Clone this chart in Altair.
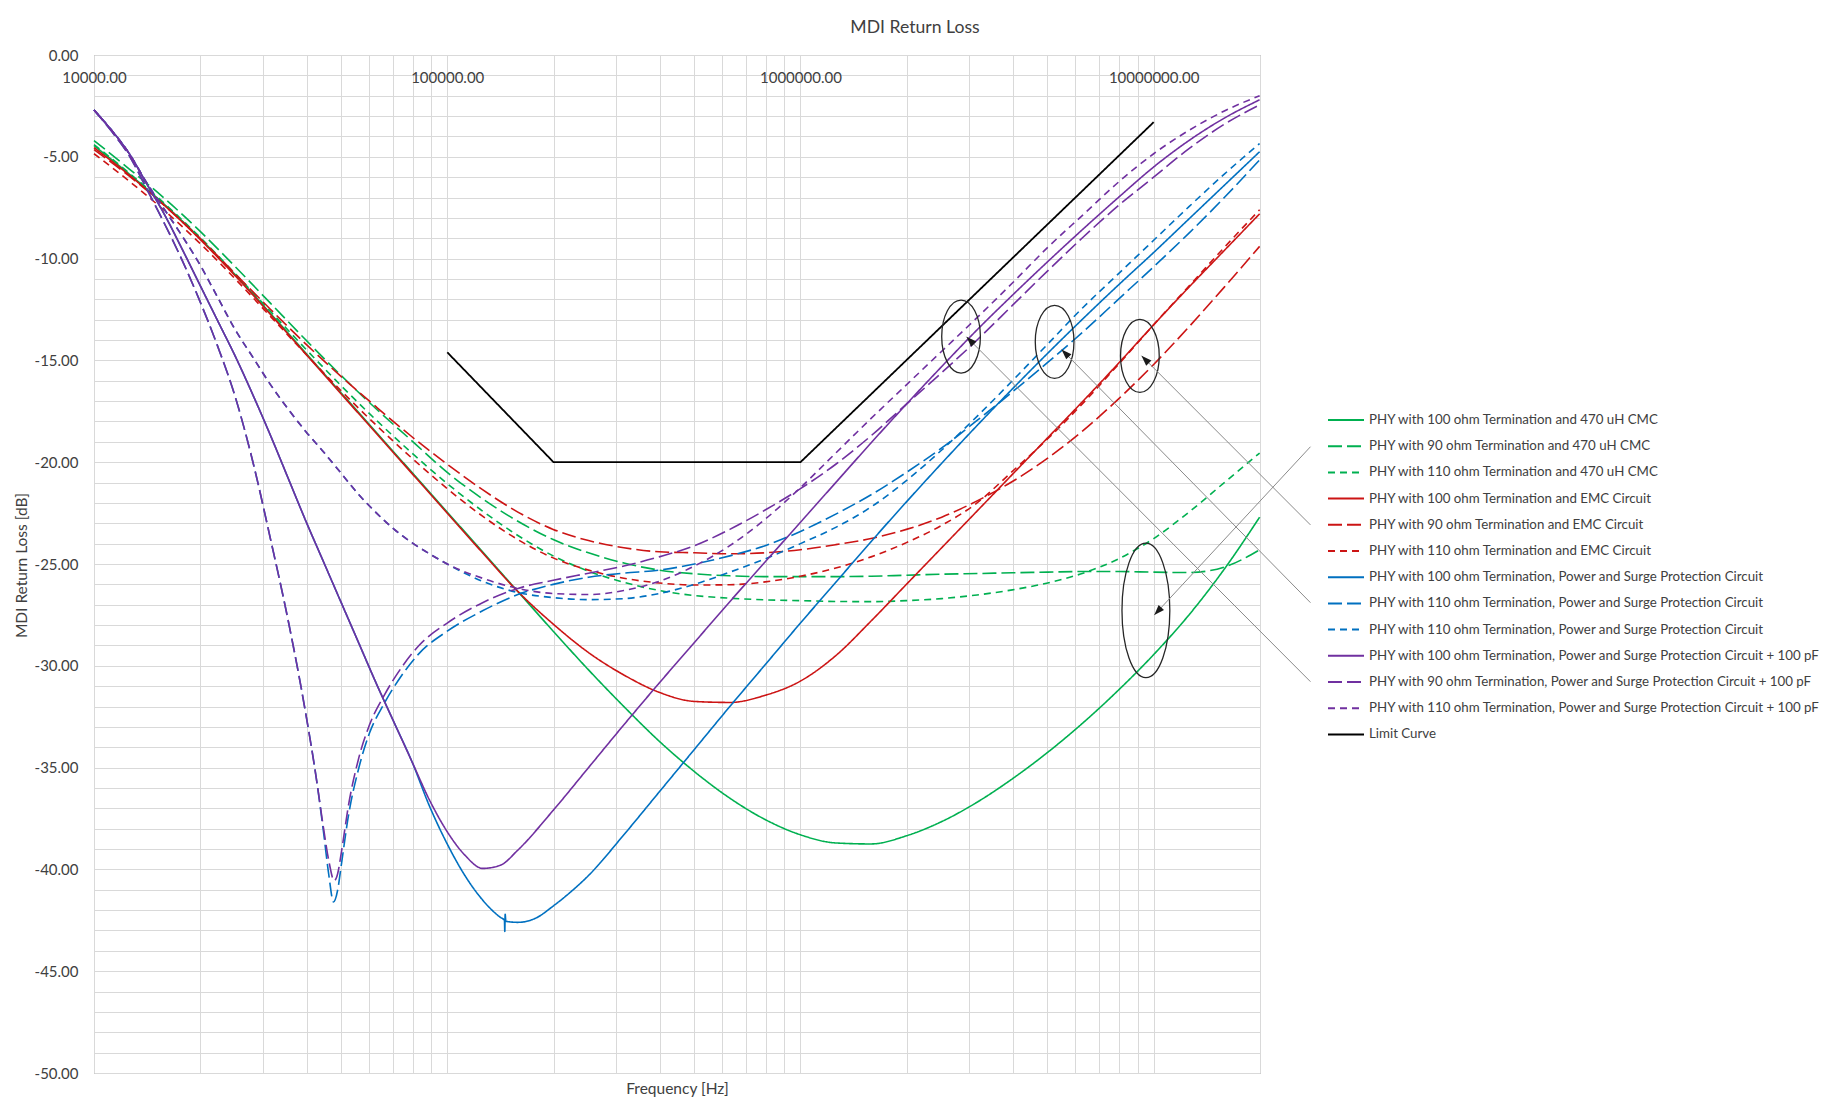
import json
import altair as alt
import pandas as pd

# ---------------- data ----------------
# common frequency grid (Hz), 1/10 decade
FREQ_GRID = [10000, 12589, 15849, 19953, 25119, 31623, 39811, 50119, 63096, 79433,
             100000, 125893, 158489, 199526, 251189, 316228, 398107, 501187, 630957, 794328,
             1000000, 1258925, 1584893, 1995262, 2511886, 3162278, 3981072, 5011872, 6309573, 7943282,
             10000000, 12589254, 15848932, 19952623]

G100_CMC = [-4.45, -5.85, -7.35, -9.0, -10.8, -12.7, -14.65, -16.6, -18.55, -20.5,
            -22.45, -24.4, -26.35, -28.3, -30.2, -32.0, -33.7, -35.2, -36.5, -37.55,
            -38.3, -38.7, -38.75, -38.35, -37.65, -36.7, -35.55, -34.25, -32.8, -31.2,
            -29.45, -27.5, -25.25, -22.7]
G90_CMC = [-4.2, -5.6, -7.05, -8.65, -10.4, -12.2, -14.0, -15.75, -17.4, -18.95,
           -20.5, -21.8, -22.9, -23.8, -24.45, -24.95, -25.3, -25.48, -25.58, -25.62,
           -25.62, -25.62, -25.6, -25.55, -25.5, -25.47, -25.43, -25.4, -25.37, -25.37,
           -25.4, -25.42, -25.15, -24.3]
G110_CMC = [-4.4, -5.8, -7.3, -8.95, -10.75, -12.6, -14.45, -16.25, -17.95, -19.55,
            -21.05, -22.4, -23.6, -24.6, -25.35, -25.9, -26.3, -26.55, -26.68, -26.76,
            -26.8, -26.84, -26.85, -26.8, -26.7, -26.52, -26.27, -25.93, -25.45, -24.75,
            -23.75, -22.45, -21.0, -19.55]
R100_EMC = [-4.55, -5.9, -7.4, -9.05, -10.85, -12.75, -14.7, -16.65, -18.6, -20.55,
            -22.5, -24.45, -26.35, -27.95, -29.35, -30.45, -31.3, -31.75, -31.8, -31.45,
            -30.75, -29.5, -27.8, -26.0, -24.2, -22.4, -20.6, -18.8, -17.0, -15.15,
            -13.25, -11.4, -9.6, -7.8]
R90_EMC = [-4.65, -5.95, -7.4, -9.0, -10.75, -12.5, -14.2, -15.8, -17.3, -18.75,
           -20.1, -21.35, -22.45, -23.3, -23.85, -24.2, -24.4, -24.45, -24.5, -24.45,
           -24.3, -24.05, -23.75, -23.3, -22.7, -21.9, -20.95, -19.8, -18.45, -16.9,
           -15.2, -13.35, -11.4, -9.4]
R110_EMC = [-4.85, -6.2, -7.65, -9.25, -11.0, -12.85, -14.7, -16.5, -18.2, -19.8,
            -21.3, -22.65, -23.8, -24.7, -25.3, -25.7, -25.93, -26.03, -26.02, -25.88,
            -25.6, -25.2, -24.65, -23.95, -23.1, -22.0, -20.45, -18.85, -17.1, -15.2,
            -13.25, -11.35, -9.45, -7.6]

# purple solid (100 ohm, PSPC + 100 pF)
P100_FREQ = [10000, 11220, 12589, 14125, 15849, 17783, 19953, 22387, 25119, 28184,
             31623, 35481, 39811, 44668, 50119, 56234, 63096, 70795, 79433, 89125,
             100000, 112202, 125893, 141254, 158489, 199526, 251189, 316228, 398107, 501187,
             630957, 794328, 1000000, 1258925, 1584893, 1995262, 2511886, 3162278, 3981072, 5011872,
             6309573, 7943282, 10000000, 12589254, 15848932, 19952623]
P100_DB = [-2.7, -3.7, -4.85, -6.35, -7.85, -9.55, -11.3, -13.05, -14.8, -16.7,
           -18.7, -20.8, -22.9, -24.9, -26.9, -28.9, -30.9, -32.8, -34.7, -36.6,
           -38.15, -39.3, -39.95, -39.8, -39.05, -37.1, -35.0, -32.9, -30.85, -28.85,
           -26.85, -24.9, -22.95, -21.0, -19.05, -17.15, -15.3, -13.5, -11.8, -10.15,
           -8.55, -7.0, -5.5, -4.2, -3.1, -2.2]

# blue solid (100 ohm, PSPC)
B100_FREQ = [10000, 11220, 12589, 14125, 15849, 17783, 19953, 22387, 25119, 28184,
             31623, 35481, 39811, 44668, 50119, 56234, 63096, 70795, 79433,
             89125, 100000, 112202, 125893, 141254, 145211, 145546, 145881, 146555, 158489,
             177828, 199526, 223872, 251189,
             316228, 398107, 501187, 630957, 794328, 1000000, 1258925, 1584893, 1995262, 2511886,
             3162278, 3981072, 5011872, 6309573, 7943282, 10000000, 12589254, 15848932, 19952623]
B100_DB = [-2.7, -3.7, -4.85, -6.35, -7.85, -9.55, -11.3, -13.05, -14.8, -16.7,
           -18.7, -20.8, -22.9, -24.9, -26.9, -28.9, -30.9, -32.8, -34.7,
           -36.9, -38.75, -40.3, -41.5, -42.35, -42.5, -43.05, -42.2, -42.55, -42.6,
           -42.4, -41.8, -41.1, -40.3,
           -38.3, -36.2, -34.1, -32.0, -29.95, -27.9, -25.9, -23.9, -21.95, -20.05,
           -18.2, -16.4, -14.65, -12.95, -11.3, -9.7, -8.05, -6.4, -4.75]

# purple long dash (90 ohm, PSPC + 100 pF)
P90_FREQ = [10000, 11220, 12589, 14125, 15849, 17783, 19953, 22387, 25119, 28184,
            31623, 35481, 39811,
            42658, 44668, 46238, 47863, 48978, 50119, 52481, 56234, 60256, 66069, 74131, 83176, 100000,
            125893, 158489, 199526, 251189, 316228, 398107, 501187, 630957, 794328,
            1000000, 1258925, 1584893, 1995262, 2511886, 3162278, 3981072, 5011872, 6309573, 7943282,
            10000000, 12589254, 15848932, 19952623]
P90_DB = [-2.7, -3.75, -4.95, -6.6, -8.3, -10.1, -12.1, -14.3, -16.8, -20.0,
          -23.8, -27.8, -32.4,
          -35.6, -38.0, -39.6, -40.55, -40.2, -39.2, -36.9, -34.5, -32.9, -31.5, -30.1, -29.0, -27.9,
          -26.9, -26.2, -25.8, -25.45, -25.1, -24.65, -24.1, -23.3, -22.35,
          -21.3, -20.1, -18.7, -17.15, -15.6, -14.0, -12.3, -10.6, -8.95, -7.4,
          -6.0, -4.6, -3.4, -2.45]

# blue long dash (second "110 ohm" PSPC entry)
B110L_FREQ = [10000, 11220, 12589, 14125, 15849, 17783, 19953, 22387, 25119, 28184,
              31623, 35481, 39811,
              42658, 44668, 46238, 47643, 48978, 50119, 52481, 56234, 60256, 66069, 74131, 83176, 100000,
              125893, 158489, 199526, 251189, 316228, 398107, 501187, 630957, 794328,
              1000000, 1258925, 1584893, 1995262, 2511886, 3162278, 3981072, 5011872, 6309573, 7943282,
              10000000, 12589254, 15848932, 19952623]
B110L_DB = [-2.7, -3.75, -4.95, -6.6, -8.3, -10.1, -12.1, -14.3, -16.8, -20.0,
            -23.8, -27.8, -32.4,
            -35.6, -38.2, -40.3, -41.6, -41.0, -39.8, -37.4, -35.0, -33.3, -31.9, -30.5, -29.4, -28.3,
            -27.3, -26.5, -26.0, -25.65, -25.45, -25.3, -25.0, -24.6, -24.1,
            -23.4, -22.55, -21.6, -20.5, -19.3, -17.95, -16.55, -15.1, -13.6, -12.0,
            -10.4, -8.75, -7.0, -5.15]

# short dash curves (110 ohm) share this frequency list
S110_FREQ = [10000, 11220, 12589, 14125, 15849, 17783, 19953, 22387, 25119, 28184,
             31623, 35481, 39811, 44668, 50119, 56234, 63096, 70795, 79433, 89125, 100000,
             125893, 158489, 199526, 251189, 316228, 398107, 501187, 630957, 794328,
             1000000, 1258925, 1584893, 1995262, 2511886, 3162278, 3981072, 5011872, 6309573, 7943282,
             10000000, 12589254, 15848932, 19952623]
P110_DB = [-2.7, -3.7, -4.85, -6.3, -7.6, -8.9, -10.3, -11.9, -13.5, -14.85,
           -16.2, -17.4, -18.5, -19.5, -20.55, -21.6, -22.5, -23.3, -23.95, -24.5, -25.0,
           -25.7, -26.2, -26.45, -26.5, -26.3, -25.85, -25.1, -24.1, -22.8,
           -21.25, -19.55, -17.85, -16.2, -14.55, -12.9, -11.2, -9.45, -7.85, -6.25,
           -4.85, -3.7, -2.75, -2.0]
B110S_DB = [-2.7, -3.7, -4.85, -6.3, -7.6, -8.9, -10.3, -11.9, -13.5, -14.85,
            -16.2, -17.4, -18.5, -19.5, -20.55, -21.6, -22.5, -23.3, -23.95, -24.5, -25.0,
            -25.85, -26.4, -26.65, -26.75, -26.7, -26.45, -26.0, -25.4, -24.75,
            -24.0, -23.2, -22.2, -20.9, -19.4, -17.75, -16.0, -14.2, -12.4, -10.75,
            -9.1, -7.45, -5.85, -4.35]

LIMIT_FREQ = [100000, 200000, 1000000, 10000000]
LIMIT_DB = [-14.6, -20.0, -20.0, -3.3]

KEYS = ["01", "02", "03", "04", "05", "06", "07", "08", "09", "10", "11", "12", "13"]
LEGEND_LABELS = [
    "PHY with 100 ohm Termination and 470 uH CMC",
    "PHY with 90 ohm Termination and 470 uH CMC",
    "PHY with 110 ohm Termination and 470 uH CMC",
    "PHY with 100 ohm Termination and EMC Circuit",
    "PHY with 90 ohm Termination and EMC Circuit",
    "PHY with 110 ohm Termination and EMC Circuit",
    "PHY with 100 ohm Termination, Power and Surge Protection Circuit",
    "PHY with 110 ohm Termination, Power and Surge Protection Circuit",
    "PHY with 110 ohm Termination, Power and Surge Protection Circuit",
    "PHY with 100 ohm Termination, Power and Surge Protection Circuit + 100 pF",
    "PHY with 90 ohm Termination, Power and Surge Protection Circuit + 100 pF",
    "PHY with 110 ohm Termination, Power and Surge Protection Circuit + 100 pF",
    "Limit Curve",
]

# annotation shapes (positions in data units)
ELLIPSE_FREQ = [2849000, 5243000, 9141000]
ELLIPSE_DB = [-13.83, -14.09, -14.78]
BIG_ELLIPSE_FREQ = [9506000]
BIG_ELLIPSE_DB = [-27.28]
ARROW_FROM_FREQ = [27790000, 27790000, 27790000, 27790000]
ARROW_FROM_DB = [-30.78, -26.90, -23.08, -19.24]
ARROW_TO_FREQ = [2951000, 5483000, 9236000, 10037000]
ARROW_TO_DB = [-13.84, -14.46, -14.77, -27.51]

X_GRID = [10000, 20000, 30000, 40000, 50000, 60000, 70000, 80000, 90000,
          100000, 200000, 300000, 400000, 500000, 600000, 700000, 800000, 900000,
          1000000, 2000000, 3000000, 4000000, 5000000, 6000000, 7000000, 8000000, 9000000,
          10000000, 20000000]
X_LABELED = [10000, 100000, 1000000, 10000000]
Y_GRID = list(range(-50, 1))

# ---------------- styles ----------------
GREEN, RED, BLUE, PURPLE, BLACK = "#00B050", "#CC1414", "#0070C0", "#7030A0", "#000000"
COLORS = [GREEN, GREEN, GREEN, RED, RED, RED, BLUE, BLUE, BLUE, PURPLE, PURPLE, PURPLE, BLACK]
SOLID, LONG, SHORT = [1, 0], [14, 5], [7, 5]
DASHES = [SOLID, LONG, SHORT] * 4 + [SOLID]

series = [
    ("01", FREQ_GRID, G100_CMC), ("02", FREQ_GRID, G90_CMC), ("03", FREQ_GRID, G110_CMC),
    ("04", FREQ_GRID, R100_EMC), ("05", FREQ_GRID, R90_EMC), ("06", FREQ_GRID, R110_EMC),
    ("07", B100_FREQ, B100_DB), ("08", B110L_FREQ, B110L_DB), ("09", S110_FREQ, B110S_DB),
    ("10", P100_FREQ, P100_DB), ("11", P90_FREQ, P90_DB), ("12", S110_FREQ, P110_DB),
    ("13", LIMIT_FREQ, LIMIT_DB),
]
rows = []
for key, fr, db in series:
    assert len(fr) == len(db), key
    rows += [{"key": key, "freq": f, "db": d} for f, d in zip(fr, db)]
df = pd.DataFrame(rows)

FONT = "Lato"
TXT = "#404040"
X_SCALE = alt.Scale(type="log", domain=[10000, 20000000], nice=False)
Y_SCALE = alt.Scale(domain=[-50, 0], nice=False)

x_axis = alt.Axis(
    orient="top", values=X_GRID,
    labelExpr="indexof(%s, datum.value) >= 0 ? format(datum.value, '.2f') : ''" % json.dumps(X_LABELED),
    labelFlush=False, labelOverlap=False, labelBaseline="top", labelPadding=-15,
    ticks=False, domain=False, grid=True,
    title="Frequency [Hz]", titleY=1033, titleBaseline="middle",
)
y_axis = alt.Axis(
    values=Y_GRID,
    labelExpr="datum.value % 5 == 0 ? (datum.value < 0 ? '-' : '') + format(abs(datum.value), '.2f') : ''",
    labelOverlap=False, ticks=False, domain=False, grid=True, labelPadding=16,
    title="MDI Return Loss [dB]", titleX=-73, titleY=510, titleBaseline="middle",
)
X_ENC = alt.X("freq:Q", scale=X_SCALE, axis=x_axis)
Y_ENC = alt.Y("db:Q", scale=Y_SCALE, axis=y_axis)

legend = alt.Legend(
    orient="none", legendX=1239, legendY=352, title=None, padding=0,
    symbolType="M-1.5,0H1.5", symbolSize=576, symbolStrokeWidth=2,
    labelFont=FONT, labelFontSize=13.3, labelColor=TXT, labelLimit=700, labelOffset=10,
    rowPadding=6.2,
    labelExpr="%s[toNumber(datum.value) - 1]" % json.dumps(LEGEND_LABELS),
)
color_enc = alt.Color("key:N", scale=alt.Scale(domain=KEYS, range=COLORS), legend=legend)
dash_enc = alt.StrokeDash("key:N", scale=alt.Scale(domain=KEYS, range=DASHES), legend=legend)

lines = alt.Chart(df).transform_filter("datum.key != '13'").mark_line(
    strokeWidth=1.6, interpolate="monotone"
).encode(x=X_ENC, y=Y_ENC, color=color_enc, strokeDash=dash_enc)
limit = alt.Chart(df).transform_filter("datum.key == '13'").mark_line(strokeWidth=1.8).encode(
    x=X_ENC, y=Y_ENC, color=color_enc, strokeDash=dash_enc
)

SMALL_ELLIPSE = ("M0.53,0C0.53,0.5523,0.2927,1,0,1C-0.2927,1,-0.53,0.5523,-0.53,0"
                 "C-0.53,-0.5523,-0.2927,-1,0,-1C0.2927,-1,0.53,-0.5523,0.53,0Z")
BIG_ELLIPSE = ("M0.356,0C0.356,0.5523,0.1966,1,0,1C-0.1966,1,-0.356,0.5523,-0.356,0"
               "C-0.356,-0.5523,-0.1966,-1,0,-1C0.1966,-1,0.356,-0.5523,0.356,0Z")
ARROW_HEAD = "M0,0L-0.5,1.4L0.5,1.4Z"

ell = alt.Chart(pd.DataFrame({"freq": ELLIPSE_FREQ, "db": ELLIPSE_DB})).mark_point(
    shape=SMALL_ELLIPSE, size=5329, filled=False, color="#262626", strokeWidth=1.3, opacity=1
).encode(x=X_ENC, y=Y_ENC)
big_ell = alt.Chart(pd.DataFrame({"freq": BIG_ELLIPSE_FREQ, "db": BIG_ELLIPSE_DB})).mark_point(
    shape=BIG_ELLIPSE, size=18063, filled=False, color="#262626", strokeWidth=1.3, opacity=1
).encode(x=X_ENC, y=Y_ENC)

arrow_df = pd.DataFrame({"freq": ARROW_FROM_FREQ, "db": ARROW_FROM_DB,
                         "freq2": ARROW_TO_FREQ, "db2": ARROW_TO_DB})
arrows = alt.Chart(arrow_df).mark_rule(color="#8a8a8a", strokeWidth=1).encode(
    x=X_ENC, x2="freq2:Q", y=Y_ENC, y2="db2:Q",
)
heads_a = alt.Chart(pd.DataFrame({"freq": ARROW_TO_FREQ[:3], "db": ARROW_TO_DB[:3]})).mark_point(
    shape=ARROW_HEAD, size=220, filled=True, color="#1a1a1a", opacity=1, angle=315
).encode(x=X_ENC, y=Y_ENC)
heads_b = alt.Chart(pd.DataFrame({"freq": ARROW_TO_FREQ[3:], "db": ARROW_TO_DB[3:]})).mark_point(
    shape=ARROW_HEAD, size=220, filled=True, color="#1a1a1a", opacity=1, angle=223
).encode(x=X_ENC, y=Y_ENC)

chart = alt.layer(lines, limit, ell, big_ell, arrows, heads_a, heads_b).properties(
    width=1166, height=1018,
    padding={"left": 86, "top": 47, "right": 570, "bottom": 34},
    autosize=alt.AutoSizeParams(type="none"),
    title=alt.TitleParams("MDI Return Loss", font=FONT, fontSize=17.6, fontWeight="normal",
                          color=TXT, anchor="middle", frame="group", dx=238, offset=11),
).configure_view(stroke="#8c8c8c", strokeWidth=1).configure_axis(
    gridColor="#d9d9d9", gridWidth=1, labelFont=FONT, labelFontSize=15, labelColor=TXT,
    titleFont=FONT, titleFontSize=15.5, titleFontWeight="normal", titleColor=TXT,
)

chart.save("out.html", embed_options={"renderer": "svg", "actions": False})
